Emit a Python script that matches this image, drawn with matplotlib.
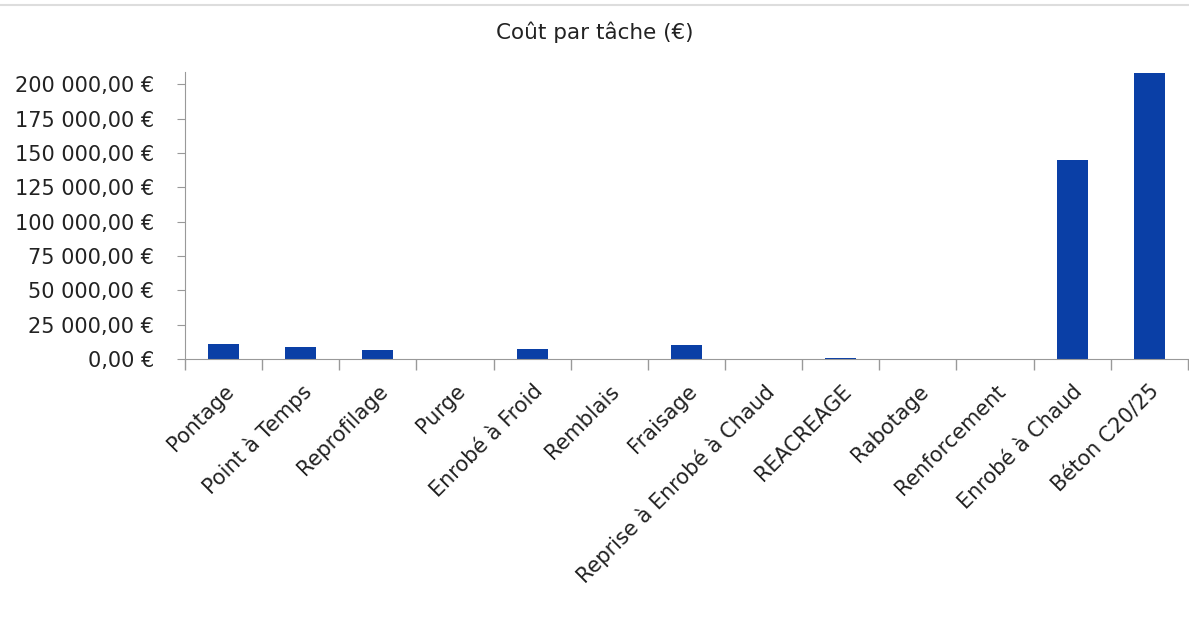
import matplotlib.pyplot as plt
from matplotlib.ticker import FuncFormatter, MultipleLocator
from matplotlib.lines import Line2D

taches = ["Pontage", "Point à Temps", "Reprofilage", "Purge", "Enrobé à Froid",
          "Remblais", "Fraisage", "Reprise à Enrobé à Chaud", "REACREAGE",
          "Rabotage", "Renforcement", "Enrobé à Chaud", "Béton C20/25"]
couts = [10900, 8700, 6300, 0, 7000, 0, 10200, 0, 400, 0, 0, 145000, 208000]

plt.rcParams['font.family'] = ['DejaVu Sans']

def fmt_euro(v, pos):
    s = "{:,.2f}".format(v).replace(",", " ").replace(".", ",")
    return s + " €"

fig = plt.figure(figsize=(11.89, 6.33), dpi=100)
ax = fig.add_axes([0.1556, 0.4329, 0.8434, 0.4534])
x = list(range(len(taches)))
ax.bar(x, couts, width=0.4, color="#0A3FA6")
ax.set_xlim(-0.5, len(taches) - 0.5)
ax.set_ylim(0, 209000)
ax.yaxis.set_major_locator(MultipleLocator(25000))
ax.yaxis.set_major_formatter(FuncFormatter(fmt_euro))
ax.set_xticks(x)
ax.set_xticklabels(taches, rotation=45, ha="right", rotation_mode="anchor")
ax.set_xticks([i - 0.5 for i in range(len(taches) + 1)], minor=True)
ax.tick_params(axis="x", which="major", length=0, pad=16, labelsize=15, colors="#222222")
ax.tick_params(axis="x", which="minor", length=8, color="#999999", width=1)
ax.tick_params(axis="y", length=6, pad=16, color="#999999", labelsize=15, labelcolor="#222222")
for s in ["top", "right"]:
    ax.spines[s].set_visible(False)
for s in ["left", "bottom"]:
    ax.spines[s].set_color("#999999")
fig.text(0.5, 0.949, "Coût par tâche (€)", ha="center", va="center", fontsize=15.5, color="#222222")
fig.add_artist(Line2D([0, 1], [0.992, 0.992], color="#dddddd", lw=1.5, transform=fig.transFigure))
fig.savefig("out.png", dpi=100)
